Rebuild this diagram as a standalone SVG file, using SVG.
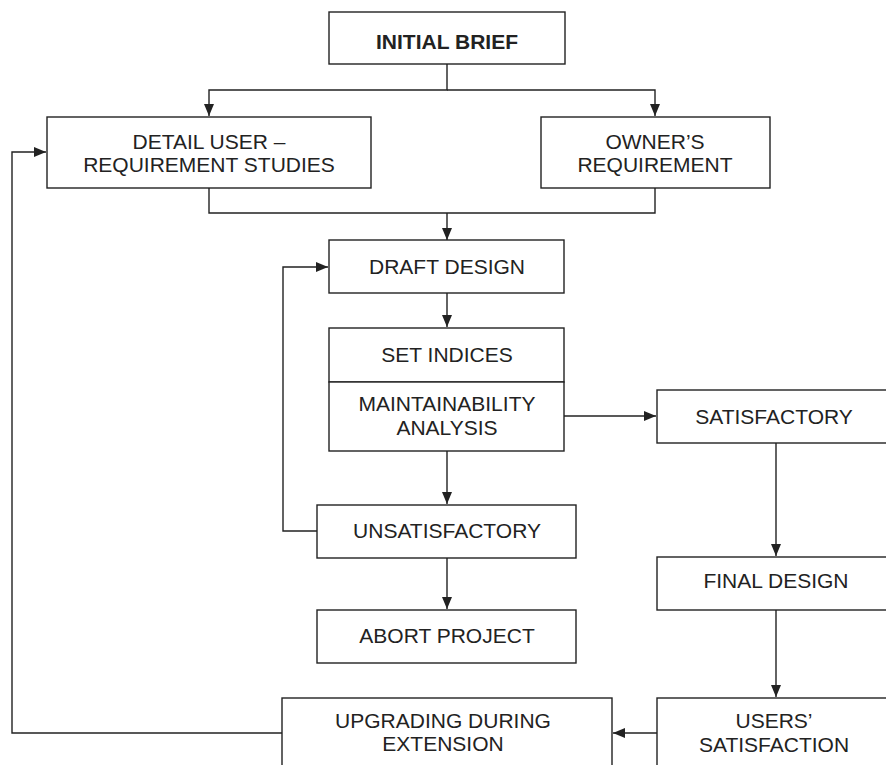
<svg xmlns="http://www.w3.org/2000/svg" width="886" height="765" viewBox="0 0 886 765">
<style>
.n{fill:#fff;stroke:#222;stroke-width:1.4}
text{font-family:"Liberation Sans",Arial,sans-serif;font-size:21px;fill:#222;text-anchor:middle}
.b{font-weight:bold}
.c{fill:none;stroke:#222;stroke-width:1.4}
</style>
<defs>
<marker id="ah" markerWidth="12" markerHeight="10" refX="12" refY="5" orient="auto" markerUnits="userSpaceOnUse">
<path d="M0,0 L12,5 L0,10 Z" fill="#222"/>
</marker>
</defs>
<rect width="886" height="765" fill="#fff"/>
<g id="connectors">
<path class="c" d="M447,64 V90 H209 V116" marker-end="url(#ah)"/>
<path class="c" d="M447,90 H655 V116" marker-end="url(#ah)"/>
<path class="c" d="M209,188 V213 H655 V188"/>
<path class="c" d="M447,213 V240" marker-end="url(#ah)"/>
<path class="c" d="M447,293 V327" marker-end="url(#ah)"/>
<path class="c" d="M564,416 H656" marker-end="url(#ah)"/>
<path class="c" d="M447,451 V504" marker-end="url(#ah)"/>
<path class="c" d="M317,531 H283 V267 H328" marker-end="url(#ah)"/>
<path class="c" d="M447,558 V609" marker-end="url(#ah)"/>
<path class="c" d="M776,443 V556" marker-end="url(#ah)"/>
<path class="c" d="M776,610 V697" marker-end="url(#ah)"/>
<path class="c" d="M658,733 H613" marker-end="url(#ah)"/>
<path class="c" d="M282,733 H12 V152 H46" marker-end="url(#ah)"/>
</g>
<g id="initial-brief">
<rect class="n" x="329" y="12" width="236" height="52"/>
<text class="b" x="447" y="49">INITIAL BRIEF</text>
</g>
<g id="detail-user">
<rect class="n" x="47" y="117" width="324" height="71"/>
<text x="209" y="149">DETAIL USER –</text>
<text x="209" y="172">REQUIREMENT STUDIES</text>
</g>
<g id="owners-requirement">
<rect class="n" x="541" y="117" width="229" height="71"/>
<text x="655" y="149">OWNER’S</text>
<text x="655" y="172">REQUIREMENT</text>
</g>
<g id="draft-design">
<rect class="n" x="329" y="240" width="235" height="53"/>
<text x="447" y="274">DRAFT DESIGN</text>
</g>
<g id="set-indices">
<rect class="n" x="329" y="328" width="235" height="54"/>
<text x="447" y="362">SET INDICES</text>
</g>
<g id="maintainability-analysis">
<rect class="n" x="329" y="382" width="235" height="69"/>
<text x="447" y="411">MAINTAINABILITY</text>
<text x="447" y="435">ANALYSIS</text>
</g>
<g id="satisfactory">
<rect class="n" x="657" y="390" width="240" height="53"/>
<text x="774" y="424">SATISFACTORY</text>
</g>
<g id="unsatisfactory">
<rect class="n" x="317" y="505" width="259" height="53"/>
<text x="447" y="538">UNSATISFACTORY</text>
</g>
<g id="abort-project">
<rect class="n" x="317" y="610" width="259" height="53"/>
<text x="447" y="643">ABORT PROJECT</text>
</g>
<g id="final-design">
<rect class="n" x="657" y="557" width="240" height="53"/>
<text x="776" y="588">FINAL DESIGN</text>
</g>
<g id="users-satisfaction">
<rect class="n" x="657" y="698" width="240" height="80"/>
<text x="774" y="728">USERS’</text>
<text x="774" y="752">SATISFACTION</text>
</g>
<g id="upgrading-during-extension">
<rect class="n" x="282" y="698" width="330" height="80"/>
<text x="443" y="728">UPGRADING DURING</text>
<text x="443" y="751">EXTENSION</text>
</g>
</svg>
